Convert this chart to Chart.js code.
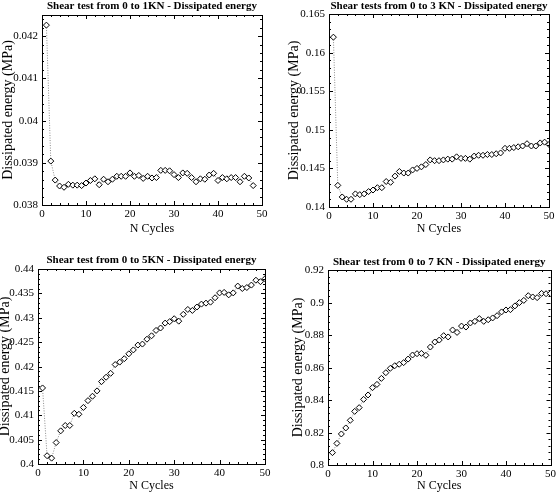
<!DOCTYPE html>
<html>
<head>
<meta charset="utf-8">
<script src="https://cdn.jsdelivr.net/npm/chart.js@4"></script>
<style>
  body { margin: 0; background: #fff; }
  #wrap { position: relative; width: 559px; height: 493px; background: #fff; }
  canvas { position: absolute; }
</style>
</head>
<body>
<div id="wrap">
  <canvas id="c1" width="275" height="240" style="left:0px;top:0px"></canvas>
  <canvas id="c2" width="279" height="240" style="left:280px;top:0px"></canvas>
  <canvas id="c3" width="279" height="248" style="left:0px;top:245px"></canvas>
  <canvas id="c4" width="279" height="248" style="left:280px;top:245px"></canvas>
</div>
<script>
// data
const cycles = [1,2,3,4,5,6,7,8,9,10,11,12,13,14,15,16,17,18,19,20,21,22,23,24,25,
  26,27,28,29,30,31,32,33,34,35,36,37,38,39,40,41,42,43,44,45,46,47,48,49,50];

const energy1kN = [0.04226,0.03904,0.03859,0.03845,0.03842,0.03849,0.03847,0.03847,0.03846,0.03852,
  0.03858,0.03862,0.03848,0.03861,0.03855,0.03861,0.03868,0.03868,0.03868,0.03876,
  0.03868,0.03870,0.03863,0.03868,0.03864,0.03865,0.03882,0.03882,0.03881,0.03872,
  0.03865,0.03876,0.03875,0.03865,0.03855,0.03862,0.03861,0.03871,0.03875,0.03858,
  0.03865,0.03862,0.03865,0.03865,0.03855,0.03868,0.03864,0.03846];

const energy3kN = [0.1620,0.1428,0.1413,0.1410,0.1410,0.1417,0.1416,0.1417,0.1420,0.1422,
  0.1425,0.1425,0.1433,0.1432,0.1440,0.1446,0.1444,0.1444,0.1448,0.1450,
  0.1452,0.1455,0.1461,0.1460,0.1460,0.1461,0.1462,0.1462,0.1465,0.1463,
  0.1463,0.1462,0.1466,0.1467,0.1467,0.1468,0.1468,0.1469,0.1470,0.1476,
  0.1476,0.1477,0.1478,0.1479,0.1482,0.1479,0.1479,0.1483,0.1484,0.1481];

const energy5kN = [0.4156,0.4017,0.4012,0.4044,0.4068,0.4079,0.4079,0.4104,0.4102,0.4116,
  0.4130,0.4139,0.4150,0.4169,0.4178,0.4186,0.4204,0.4209,0.4216,0.4226,
  0.4234,0.4244,0.4246,0.4256,0.4263,0.4274,0.4279,0.4289,0.4292,0.4298,
  0.4293,0.4307,0.4317,0.4315,0.4322,0.4328,0.4330,0.4332,0.4341,0.4351,
  0.4352,0.4347,0.4351,0.4365,0.4360,0.4362,0.4367,0.4377,0.4374,0.4380];

const energy7kN = [0.8076,0.8133,0.8191,0.8228,0.8275,0.8330,0.8353,0.8404,0.8431,0.8476,
  0.8496,0.8533,0.8568,0.8595,0.8611,0.8620,0.8630,0.8652,0.8677,0.8685,
  0.8687,0.8675,0.8726,0.8757,0.8769,0.8796,0.8788,0.8831,0.8816,0.8855,
  0.8849,0.8874,0.8884,0.8901,0.8884,0.8894,0.8905,0.8919,0.8942,0.8954,
  0.8956,0.8979,0.8999,0.9013,0.9042,0.9034,0.9030,0.9056,0.9054,0.9056];

const titles = [
  'Shear test from 0 to 1KN - Dissipated energy',
  'Shear tests from 0 to 3 KN - Dissipated energy',
  'Shear test from 0 to 5KN - Dissipated energy',
  'Shear test from 0 to 7 KN - Dissipated energy'
];
const yTicks1 = [0.038, 0.039, 0.04, 0.041, 0.042];
const yTicks3 = [0.14, 0.145, 0.15, 0.155, 0.16, 0.165];
const yTicks5 = [0.4, 0.405, 0.41, 0.415, 0.42, 0.425, 0.43, 0.435, 0.44];
const yTicks7 = [0.8, 0.82, 0.84, 0.86, 0.88, 0.9, 0.92];
const yMaxs = [0.0425, 0.165, 0.44, 0.92];
const xTicks = [0, 10, 20, 30, 40, 50];

const serif = "'Liberation Serif', 'Times New Roman', serif";

// closed box with small inward ticks (matlab style) + y tick labels
const boxPlugin = {
  id: 'box',
  afterDraw(chart) {
    const { ctx, chartArea: a, scales } = chart;
    const xs = scales.x, ys = scales.y;
    ctx.save();
    ctx.strokeStyle = '#000';
    ctx.lineWidth = 1;
    ctx.strokeRect(Math.round(a.left) + 0.5, Math.round(a.top) + 0.5,
      Math.round(a.right - a.left), Math.round(a.bottom - a.top));
    ctx.beginPath();
    const xv = xs.ticks.map(t => t.value);
    for (let i = 0; i < xv.length; i++) {
      const px = Math.round(xs.getPixelForValue(xv[i])) + 0.5;
      ctx.moveTo(px, a.bottom); ctx.lineTo(px, a.bottom - 4);
      ctx.moveTo(px, a.top); ctx.lineTo(px, a.top + 4);
      if (i < xv.length - 1) {
        for (let k = 1; k < 5; k++) {
          const mx = Math.round(xs.getPixelForValue(xv[i] + (xv[i + 1] - xv[i]) * k / 5)) + 0.5;
          ctx.moveTo(mx, a.bottom); ctx.lineTo(mx, a.bottom - 2);
          ctx.moveTo(mx, a.top); ctx.lineTo(mx, a.top + 2);
        }
      }
    }
    const yv = chart.options.yTickValues;
    const step = yv[1] - yv[0];
    ctx.fillStyle = '#000';
    ctx.font = '11px ' + serif;
    ctx.textAlign = 'right';
    ctx.textBaseline = 'middle';
    for (let i = 0; i < yv.length; i++) {
      const py = Math.round(ys.getPixelForValue(yv[i])) + 0.5;
      ctx.fillText(String(parseFloat(yv[i].toFixed(6))), a.left - 4, py);
      ctx.moveTo(a.left, py); ctx.lineTo(a.left + 4, py);
      ctx.moveTo(a.right, py); ctx.lineTo(a.right - 4, py);
      for (let k = 1; k < 5; k++) {
        const mv = yv[i] + step * k / 5;
        if (mv > ys.max) break;
        const my = Math.round(ys.getPixelForValue(mv)) + 0.5;
        ctx.moveTo(a.left, my); ctx.lineTo(a.left + 2, my);
        ctx.moveTo(a.right, my); ctx.lineTo(a.right - 2, my);
      }
    }
    ctx.stroke();
    ctx.restore();
  }
};

function makePanel(id, idx, values, yTicks, lay) {
  const pts = values.map((v, i) => ({ x: cycles[i], y: v }));
  return new Chart(document.getElementById(id), {
    type: 'line',
    data: {
      datasets: [{
        data: pts,
        borderColor: '#8a8a8a',
        borderWidth: 1,
        borderDash: [1, 1.5],
        pointStyle: 'rectRot',
        pointRadius: 3,
        pointBorderWidth: 1,
        pointBorderColor: '#000',
        pointBackgroundColor: '#fff',
        tension: 0
      }]
    },
    options: {
      responsive: false,
      animation: false,
      devicePixelRatio: 1,
      yTickValues: yTicks,
      layout: { padding: { left: 0, right: lay.padRight, top: 0, bottom: 0 } },
      plugins: {
        legend: { display: false },
        tooltip: { enabled: false },
        title: {
          display: true,
          text: titles[idx],
          fullSize: false,
          color: '#000',
          font: { family: serif, size: 11, weight: 'bold' },
          padding: { top: lay.titleTop, bottom: lay.titleBottom }
        }
      },
      scales: {
        x: {
          type: 'linear',
          min: 0,
          max: 50,
          afterBuildTicks: s => { s.ticks = xTicks.map(v => ({ value: v })); },
          afterFit: s => { s.height = lay.xHeight; },
          grid: { display: false, drawTicks: false },
          border: { display: false },
          ticks: { color: '#000', font: { family: serif, size: 11 }, padding: 3, maxRotation: 0, autoSkip: false },
          title: {
            display: true, text: 'N Cycles', color: '#000',
            font: { family: serif, size: 12 },
            padding: { top: 0, bottom: lay.xTitlePad }
          }
        },
        y: {
          type: 'linear',
          min: yTicks[0],
          max: yMaxs[idx],
          afterBuildTicks: s => { s.ticks = yTicks.map(v => ({ value: v })); },
          afterFit: s => { s.width = lay.yWidth; },
          grid: { display: false, drawTicks: false },
          border: { display: false },
          ticks: { display: false },
          title: {
            display: true, text: 'Dissipated energy (MPa)', color: '#000',
            font: { family: serif, size: 14 },
            padding: { top: lay.yTitlePad, bottom: 0 }
          }
        }
      }
    },
    plugins: [boxPlugin]
  });
}

makePanel('c1', 0, energy1kN, yTicks1, { padRight: 13, titleTop: 0, titleBottom: 1.8, xHeight: 35, xTitlePad: 3.8, yWidth: 42, yTitlePad: 0 });
makePanel('c2', 1, energy3kN, yTicks3, { padRight: 10, titleTop: 0, titleBottom: 0.8, xHeight: 33, xTitlePad: 3.8, yWidth: 49, yTitlePad: 6 });
makePanel('c3', 2, energy5kN, yTicks5, { padRight: 14, titleTop: 8.4, titleBottom: 2.4, xHeight: 29, xTitlePad: 0, yWidth: 38, yTitlePad: -3 });
makePanel('c4', 3, energy7kN, yTicks7, { padRight: 5, titleTop: 10.4, titleBottom: 1.4, xHeight: 28, xTitlePad: 0, yWidth: 48, yTitlePad: 10 });
</script>
</body>
</html>
